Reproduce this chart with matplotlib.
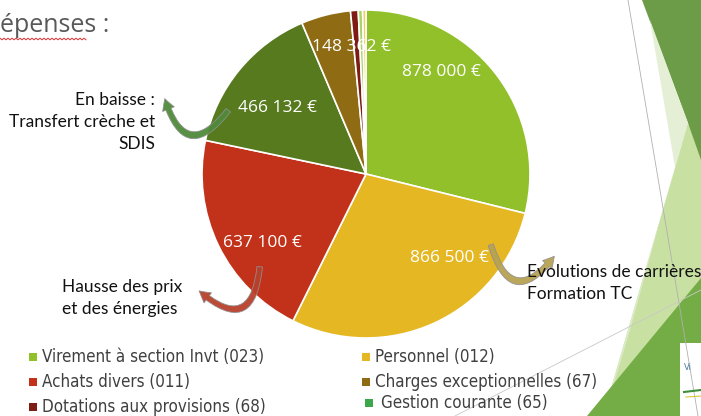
import numpy as np
import matplotlib
matplotlib.use("Agg")
import matplotlib.pyplot as plt
from matplotlib.patches import Polygon, FancyArrowPatch, Rectangle

# pie data (clockwise from the top)
categories = ["Virement à section Invt (023)", "Personnel (012)", "Achats divers (011)",
              "Gestion courante (65)", "Charges exceptionnelles (67)",
              "Dotations aux provisions (68)", "Atténuations de produits (014)",
              "Charges financières (66)"]
values = [878000, 866500, 637100, 466132, 148362, 23000, 13000, 10000]
colors = ["#92C02A", "#E5B723", "#C23119", "#577A1F", "#8F6C14", "#7D1B14",
          "#A9D467", "#F0CB5E"]
value_labels = ["878 000 €", "866 500 €", "637 100 €", "466 132 €", "148 362 €"]
label_xy = [(441, 72), (450, 258), (262, 243), (278, 108), (352, 47)]

# legend (as on the slide, two columns)
legend_labels = ["Virement à section Invt (023)", "Personnel (012)",
                 "Achats divers (011)", "Charges exceptionnelles (67)",
                 "Dotations aux provisions (68)", "Gestion courante (65)"]
legend_colors = ["#92C02A", "#E5B723", "#C23119", "#8F6C14", "#7D1B14", "#3DA64A"]

W, H = 701, 416
fig = plt.figure(figsize=(W / 100, H / 100), dpi=100)
fig.patch.set_facecolor("white")

# background decoration of the slide
bg = fig.add_axes([0, 0, 1, 1], zorder=0)
bg.set_xlim(0, W)
bg.set_ylim(H, 0)
bg.axis("off")
bg.add_patch(Polygon([(642, 0), (701, 0), (701, 205), (688, 123)], color="#6C9C48", lw=0))
bg.add_patch(Polygon([(650, 20), (688, 123), (675, 167)], color="#E4EFD5", lw=0))
bg.add_patch(Polygon([(688, 123), (701, 160), (701, 416), (603, 416)], color="#C9E0A3", lw=0))
bg.add_patch(Polygon([(688, 123), (663, 210), (630, 330), (615, 380), (603, 416)],
                     color="#DCEBC7", lw=0))
bg.add_patch(Polygon([(587, 416), (701, 278), (701, 416)], color="#74AD45", lw=0))
bg.plot([628, 698], [0, 416], color="#B0B0B0", lw=0.6)
bg.plot([455, 701], [416, 290], color="#C8C8C8", lw=0.6)
bg.add_patch(Rectangle((680, 343), 30, 73, color="white", lw=0))
bg.text(684, 368, "Vi", fontsize=6, color="#4A7BA0", ha="left", va="center")
bg.plot([684, 701], [392, 390], color="#3E8E3A", lw=1.5)
bg.plot([686, 701], [397, 396], color="#D8C83A", lw=0.8)

# pie
ax = fig.add_axes([202 / W, (H - 338) / H, 328 / W, 328 / H], zorder=1)
ax.pie(values, colors=colors, startangle=90, counterclock=False, radius=1,
       wedgeprops=dict(edgecolor="white", linewidth=1.2))
ax.set_xlim(-1, 1)
ax.set_ylim(-1, 1)

# overlay: labels, arrows, texts
ov = fig.add_axes([0, 0, 1, 1], zorder=2)
ov.set_xlim(0, W)
ov.set_ylim(H, 0)
ov.axis("off")
ov.patch.set_alpha(0)

for txt, (x, y) in zip(value_labels, label_xy):
    ov.text(x, y, txt, color="white", fontsize=12.5, family="Open Sans",
            ha="center", va="center")

# title (cut off on the slide)
ov.text(0, 25, "épenses :", fontsize=18, color="#595959", family="Open Sans",
        ha="left", va="center")
zx = np.arange(0, 88, 2)
ov.plot(zx, 39 + np.where(np.arange(len(zx)) % 2 == 0, -0.8, 0.8), color="#E03030", lw=0.7)

note_font = dict(fontsize=12.5, family="Lato", color="#111111")
ov.text(155, 100, "En baisse :", ha="right", va="center", **note_font)
ov.text(155, 122, "Transfert crèche et", ha="right", va="center", **note_font)
ov.text(155, 144, "SDIS", ha="right", va="center", **note_font)
ov.text(62, 287, "Hausse des prix", ha="left", va="center", **note_font)
ov.text(62, 309, "et des énergies", ha="left", va="center", **note_font)
ov.text(527, 272, "Evolutions de carrières", ha="left", va="center", **note_font)
ov.text(527, 294, "Formation TC", ha="left", va="center", **note_font)

arrow_style = "simple,head_width=9,head_length=8,tail_width=4"
for (p0, p1, rad, col) in [((230, 108), (164, 96), -1.0, "#4F8A3A"),
                           ((260, 264), (197, 289), -1.0, "#B8402C"),
                           ((490, 242), (556, 254), 1.0, "#B7A253")]:
    ov.add_patch(FancyArrowPatch(p0, p1, connectionstyle=f"arc3,rad={rad}",
                                 arrowstyle=arrow_style, color=col, lw=0.6,
                                 ec="#909090", alpha=0.95))

# legend
leg_pos = [(33, 357), (366, 357), (33, 382), (366, 382), (33, 407), (369, 403)]
for lab, col, (x, y) in zip(legend_labels, legend_colors, leg_pos):
    ov.add_patch(Rectangle((x - 4, y - 4), 8, 8, color=col, lw=0))
    ov.text(x + 9 if lab != "Gestion courante (65)" else x + 12, y, lab,
            fontsize=12.2, family="DejaVu Sans", fontstretch="condensed",
            color="#404040", ha="left", va="center")

fig.savefig("out.png", dpi=100)
